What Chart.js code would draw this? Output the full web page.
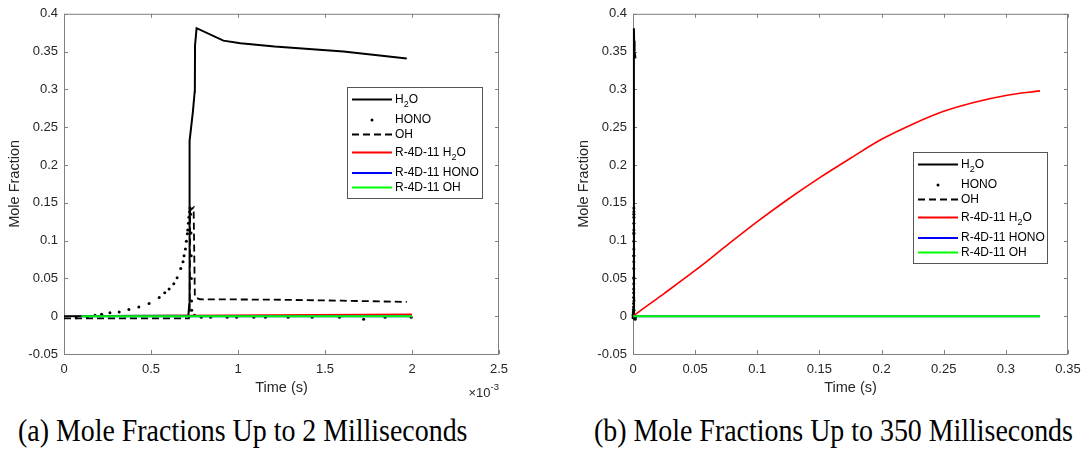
<!DOCTYPE html>
<html>
<head>
<meta charset="utf-8">
<script src="https://cdn.jsdelivr.net/npm/chart.js@4.4.0/dist/chart.umd.min.js"></script>
<style>
  body { margin: 0; background: #fff; width: 1091px; height: 451px; position: relative; overflow: hidden; }
  .panel { position: absolute; top: 0; }
  .panel canvas { display: block; }
  .caption { position: absolute; top: 413px; font-family: "Liberation Serif", "Times New Roman", serif; font-size: 31px; color: #000; white-space: nowrap; transform: scaleX(0.9); transform-origin: 0 0; }
</style>
</head>
<body>
<div class="panel" style="left:0"><canvas id="chartA" width="545" height="400" style="width:545px;height:400px"></canvas></div>
<div class="panel" style="left:569px"><canvas id="chartB" width="522" height="400" style="width:522px;height:400px"></canvas></div>
<div class="caption" style="left:18px">(a) Mole Fractions Up to 2 Milliseconds</div>
<div class="caption" style="left:594px">(b) Mole Fractions Up to 350 Milliseconds</div>
<script>
const MS = 1e-3;

// detailed mechanism, times in milliseconds
const tH2OMs = [0, 0.715, 0.720, 0.7205, 0.723, 0.741, 0.751, 0.752, 0.753, 0.762, 0.916, 1.014, 1.21, 1.606, 1.97];
const vH2O   = [0, 0.001, 0.016, 0.225, 0.232, 0.271, 0.297, 0.300, 0.358, 0.381, 0.3645, 0.361, 0.3566, 0.350, 0.341];

const tHONOMs = [0.07, 0.134, 0.178, 0.216, 0.264, 0.317, 0.373, 0.43, 0.489, 0.547,
                 0.579, 0.604, 0.631, 0.65, 0.671, 0.684, 0.69, 0.698, 0.703, 0.709,
                 0.711, 0.715, 0.718, 0.722, 0.724, 0.728, 0.730, 0.731, 0.732, 0.733,
                 0.734, 0.75, 0.789, 0.843, 0.938, 0.992, 1.091, 1.158, 1.288, 1.426,
                 1.583, 1.722, 1.845, 1.995];
const vHONO   = [-0.002, -0.001, 0.0013, 0.0026, 0.0044, 0.0057, 0.0088, 0.0123, 0.0167, 0.0246,
                 0.031, 0.036, 0.043, 0.051, 0.063, 0.072, 0.080, 0.089, 0.099, 0.109,
                 0.114, 0.123, 0.131, 0.138, 0.143, 0.135, 0.11, 0.08, 0.05, 0.02,
                 0.008, 0.0013, -0.0015, -0.0015, -0.0015, -0.0015, -0.0015, -0.0015, -0.0015, -0.0015,
                 -0.0015, -0.004, -0.0015, -0.0015];

const tOHMs = [0, 0.718, 0.722, 0.725, 0.745, 0.752, 0.78, 1.2, 1.6, 1.97];
const vOH   = [-0.003, -0.003, 0.002, 0.140, 0.144, 0.025, 0.0224, 0.0219, 0.0205, 0.0189];

// reduced mechanism R-4D-11, times in seconds
const tRed     = [0.0001, 0.002, 0.025, 0.05, 0.075, 0.1, 0.125, 0.15, 0.175, 0.2, 0.225, 0.25, 0.275, 0.3, 0.3275];
const vRedH2O  = [0, 0.0025, 0.030, 0.0605, 0.093, 0.125, 0.155, 0.183, 0.209, 0.234, 0.254, 0.271, 0.283, 0.292, 0.298];
const vRedHONO = [0, 0, 0, 0, 0, 0, 0, 0, 0, 0, 0, 0, 0, 0, 0];
const vRedOH   = [0, 0, 0, 0, 0, 0, 0, 0, 0, 0, 0, 0, 0, 0, 0];

const yTickLabels  = ['-0.05', '0', '0.05', '0.1', '0.15', '0.2', '0.25', '0.3', '0.35', '0.4'];
const xTickLabelsA = ['0', '0.5', '1', '1.5', '2', '2.5'];
const xTickLabelsB = ['0', '0.05', '0.1', '0.15', '0.2', '0.25', '0.3', '0.35'];

const FONT = '"Liberation Sans", Arial, Helvetica, sans-serif';
const INK = '#262626';
Chart.defaults.font.family = FONT;
Chart.defaults.color = INK;

function pts(ts, vs, scale, tMax) {
  return ts.map((t, i) => ({ x: t * scale, y: vs[i] }))
           .filter(p => tMax === undefined || p.x <= tMax + 1e-12);
}

function makeDatasets(tMax) {
  const list = [
    { label: 'H_2O', data: pts(tH2OMs, vH2O, MS), borderColor: '#000', borderWidth: 2 },
    { label: 'HONO', data: pts(tHONOMs, vHONO, MS), showLine: false, pointRadius: 1.5,
      pointBackgroundColor: '#000', pointBorderWidth: 0 },
    { label: 'OH', data: pts(tOHMs, vOH, MS), borderColor: '#000', borderWidth: 1.8, borderDash: [7, 4] },
    { label: 'R-4D-11 H_2O', data: pts(tRed, vRedH2O, 1, tMax), borderColor: '#ff0000', borderWidth: 1.6,
      cubicInterpolationMode: 'monotone' },
    { label: 'R-4D-11 HONO', data: pts(tRed, vRedHONO, 1, tMax), borderColor: '#0000ff', borderWidth: 2 },
    { label: 'R-4D-11 OH', data: pts(tRed, vRedOH, 1, tMax), borderColor: '#00ff00', borderWidth: 2 },
  ];
  // later series are plotted on top, as in the original figure
  return list.map((d, i) => ({
    pointRadius: 0, tension: 0, fill: false, clip: 3, ...d, order: list.length - i,
  }));
}

// label text with "_2"-style subscripts
function drawLabel(ctx, text, x, y, size) {
  text.split(/_(\d)/).forEach((part, i) => {
    const sub = i % 2 === 1;
    ctx.font = `${sub ? size * 0.75 : size}px ${FONT}`;
    ctx.fillText(part, x, y + (sub ? size * 0.42 : 0));
    x += ctx.measureText(part).width;
  });
}

const matlabFrame = {
  id: 'matlabFrame',
  // box with inward ticks on all four sides, under the data
  beforeDatasetsDraw(chart) {
    const { ctx, chartArea: a, scales } = chart;
    const tl = 4;
    ctx.save();
    ctx.strokeStyle = '#808080';
    ctx.lineWidth = 1;
    ctx.strokeRect(a.left + 0.5, a.top + 0.5, a.right - a.left - 1, a.bottom - a.top);
    ctx.beginPath();
    scales.x.ticks.forEach(t => {
      const px = Math.round(scales.x.getPixelForValue(t.value)) + 0.5;
      ctx.moveTo(px, a.bottom); ctx.lineTo(px, a.bottom - tl);
      ctx.moveTo(px, a.top); ctx.lineTo(px, a.top + tl);
    });
    scales.y.ticks.forEach(t => {
      const py = Math.round(scales.y.getPixelForValue(t.value)) + 0.5;
      ctx.moveTo(a.left, py); ctx.lineTo(a.left + tl, py);
      ctx.moveTo(a.right, py); ctx.lineTo(a.right - tl, py);
    });
    ctx.stroke();
    ctx.restore();
  },
  afterDraw(chart, args, opts) {
    const { ctx, chartArea: a } = chart;
    ctx.save();

    // legend
    const box = opts.legend;
    ctx.fillStyle = '#fff';
    ctx.fillRect(box.x, box.y, box.w, box.h);
    ctx.strokeStyle = '#555';
    ctx.lineWidth = 1;
    ctx.strokeRect(box.x + 0.5, box.y + 0.5, box.w, box.h);
    const sets = chart.data.datasets;
    let y = box.y + 12.5;
    sets.forEach((ds, i) => {
      const x0 = box.x + 5, x1 = box.x + 45;
      if (ds.showLine === false) {
        ctx.fillStyle = ds.pointBackgroundColor;
        ctx.beginPath();
        ctx.arc((x0 + x1) / 2, y, 1.5, 0, Math.PI * 2);
        ctx.fill();
      } else {
        ctx.strokeStyle = ds.borderColor;
        ctx.lineWidth = 2;
        ctx.setLineDash(ds.borderDash || []);
        ctx.beginPath();
        ctx.moveTo(x0, y); ctx.lineTo(x1, y);
        ctx.stroke();
        ctx.setLineDash([]);
      }
      ctx.fillStyle = '#000';
      ctx.textAlign = 'left';
      ctx.textBaseline = 'middle';
      drawLabel(ctx, ds.label, box.x + 48, y, 12);
      if (i < sets.length - 1) {
        y += 14.5 + (ds.label.includes('_') ? 6 : 0) + (sets[i + 1].label.includes('_') ? 3.5 : 0);
      }
    });

    // axis multiplier
    if (opts.exponent) {
      ctx.fillStyle = INK;
      ctx.textAlign = 'right';
      ctx.textBaseline = 'middle';
      ctx.font = `9.5px ${FONT}`;
      ctx.fillText(opts.exponent, a.right, 387);
      const ew = ctx.measureText(opts.exponent).width;
      ctx.font = `13px ${FONT}`;
      ctx.fillText('\u00d710', a.right - ew, 393);
    }
    ctx.restore();
  },
};

function makeOptions(xMax, xStep, xLabels, padRight, frame) {
  return {
    responsive: false,
    animation: false,
    devicePixelRatio: 1,
    events: [],
    layout: { padding: { left: 0, top: 12, right: padRight, bottom: 0 }, autoPadding: false },
    plugins: { legend: { display: false }, tooltip: { enabled: false }, matlabFrame: frame },
    scales: {
      x: {
        type: 'linear', min: 0, max: xMax,
        grid: { display: false, drawTicks: false },
        border: { display: false },
        ticks: {
          stepSize: xStep, padding: 8, color: INK, font: { size: 13 },
          autoSkip: false, maxRotation: 0,
          callback: (v, i) => xLabels[i],
        },
        title: { display: true, text: 'Time (s)', color: INK, font: { size: 14.5 }, padding: { top: 0, bottom: 3 } },
        afterFit: s => { s.height = 46; },
      },
      y: {
        type: 'linear', min: -0.05, max: 0.4,
        grid: { display: false, drawTicks: false },
        border: { display: false },
        ticks: {
          stepSize: 0.05, padding: 6, color: INK, font: { size: 13 },
          autoSkip: false,
          callback: (v, i) => yTickLabels[i],
        },
        title: { display: true, text: 'Mole Fraction', color: INK, font: { size: 14.5 }, padding: { top: 6, bottom: 0 } },
        afterFit: s => { s.width = 64; },
      },
    },
  };
}

new Chart(document.getElementById('chartA'), {
  type: 'line',
  data: { datasets: makeDatasets(2 * MS) },
  options: makeOptions(2.5 * MS, 0.5 * MS, xTickLabelsA, 46,
    { legend: { x: 347, y: 87, w: 135, h: 111 }, exponent: '-3' }),
  plugins: [matlabFrame],
});

new Chart(document.getElementById('chartB'), {
  type: 'line',
  data: { datasets: makeDatasets() },
  options: makeOptions(0.35, 0.05, xTickLabelsB, 23,
    { legend: { x: 344, y: 152, w: 134, h: 111 } }),
  plugins: [matlabFrame],
});
</script>
</body>
</html>
